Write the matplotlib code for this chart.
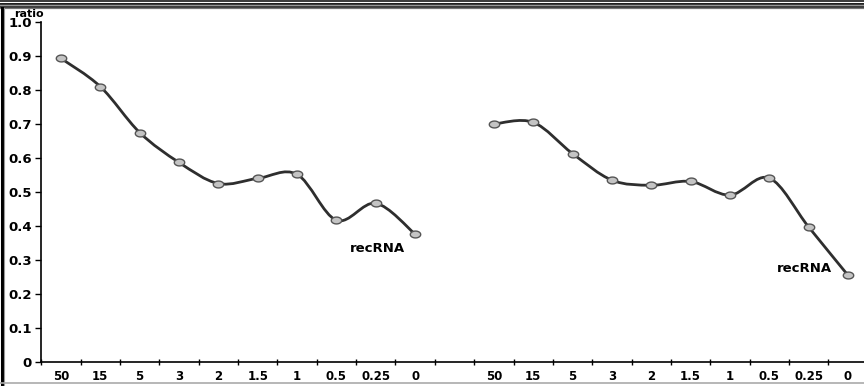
import numpy as np
import matplotlib
matplotlib.use('Agg')
import matplotlib.pyplot as plt
from matplotlib.path import Path
from matplotlib.patches import PathPatch
from matplotlib.lines import Line2D

# 数据
categories = ['50', '15', '5', '3', '2', '1.5', '1', '0.5', '0.25', '0']
left_vals = [0.893, 0.81, 0.675, 0.587, 0.525, 0.54, 0.552, 0.417, 0.467, 0.376]
right_vals = [0.70, 0.705, 0.613, 0.535, 0.52, 0.531, 0.491, 0.541, 0.397, 0.255]
yticks = [0, 0.1, 0.2, 0.3, 0.4, 0.5, 0.6, 0.7, 0.8, 0.9, 1.0]
ytick_labels = ['0', '0.1', '0.2', '0.3', '0.4', '0.5', '0.6', '0.7', '0.8', '0.9', '1.0']

plt.rcParams['font.family'] = ['DejaVu Sans']
plt.rcParams['font.weight'] = 'bold'

fig = plt.figure(figsize=(8.64, 3.86), dpi=100)
ax = fig.add_axes([0.0478, 0.062, 0.9565, 0.881])


def smooth_path(xs, ys):
    # 平滑曲线 (Catmull-Rom -> Bezier)
    pts = np.column_stack([xs, ys])
    ext = np.vstack([pts[0], pts, pts[-1]])
    verts = [pts[0]]
    codes = [Path.MOVETO]
    for i in range(len(pts) - 1):
        p0, p1, p2, p3 = ext[i], ext[i + 1], ext[i + 2], ext[i + 3]
        c1 = p1 + (p2 - p0) / 6.0
        c2 = p2 - (p3 - p1) / 6.0
        verts += [c1, c2, p2]
        codes += [Path.CURVE4] * 3
    return Path(verts, codes)


# 椭圆形标记
t = np.linspace(0, 2 * np.pi, 41)
ell = Path(np.column_stack([np.cos(t), 0.66 * np.sin(t)]), closed=True)

x_left = np.arange(len(categories))
x_right = np.arange(len(categories)) + len(categories) + 1

for xs, ys in [(x_left, left_vals), (x_right, right_vals)]:
    ax.add_patch(PathPatch(smooth_path(xs, ys), facecolor='none',
                           edgecolor='#2e2e2e', lw=2.0, zorder=2))
    ax.plot(xs, ys, linestyle='none', marker=ell, markersize=7.5,
            markerfacecolor='#c4c4c4', markeredgecolor='#555555',
            markeredgewidth=1.0, zorder=3)

ax.text(8.03, 0.335, 'recRNA', ha='center', va='center', fontsize=9.5, fontweight='bold')
ax.text(18.88, 0.274, 'recRNA', ha='center', va='center', fontsize=9.5, fontweight='bold')

ax.set_xlim(-0.5, 2 * len(categories) + 0.5)
ax.set_ylim(0, 1.0)
ax.set_yticks(yticks)
ax.set_yticklabels(ytick_labels, fontsize=9.5, fontweight='bold')

# 类别轴：刻度在类别之间，标签在中间
ax.set_xticks(np.arange(-0.5, 2 * len(categories) + 1, 1.0))
ax.set_xticklabels([])
ax.set_xticks(np.concatenate([x_left, x_right]), minor=True)
ax.set_xticklabels(categories + categories, minor=True, fontsize=8.5, fontweight='bold')
ax.tick_params(axis='x', which='minor', length=0, pad=6)
ax.tick_params(axis='x', which='major', direction='inout', length=4, width=1)
ax.tick_params(axis='y', direction='out', length=4, width=1, pad=3)

for s in ['top', 'right']:
    ax.spines[s].set_visible(False)
for s in ['left', 'bottom']:
    ax.spines[s].set_linewidth(1.2)
    ax.spines[s].set_color('black')

fig.text(0.034, 0.965, 'ratio', ha='center', va='center', fontsize=8, fontweight='bold')

# 外框
H = 386.0
W = 864.0
for y, c, w in [(0.8, 'black', 1.5), (2.5, '#888888', 1.0), (3.8, 'black', 1.5),
                (5.2, '#999999', 1.0), (6.6, 'black', 1.5), (8.4, '#777777', 1.2)]:
    fig.add_artist(Line2D([0, 1], [1 - y / H, 1 - y / H], color=c, lw=w * 0.72))
fig.add_artist(Line2D([1.5 / W, 1.5 / W], [0, 1 - 8 / H], color='black', lw=2.2))
fig.add_artist(Line2D([3.6 / W, 3.6 / W], [0, 1 - 8 / H], color='#999999', lw=0.8))
fig.add_artist(Line2D([0, 1], [3 / H, 3 / H], color='#aaaaaa', lw=1.2))

fig.savefig('out.png', dpi=100)
